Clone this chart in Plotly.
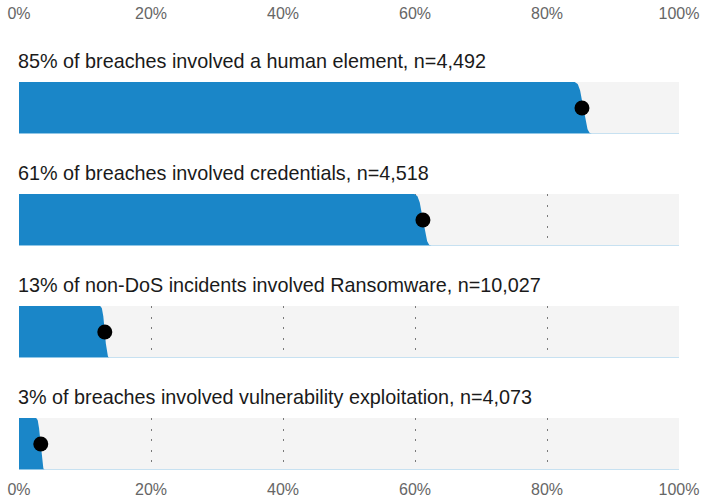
import numpy as np
import plotly.graph_objects as go
from plotly.subplots import make_subplots
from statistics import NormalDist

# ---- data ----
titles = [
    "85% of breaches involved a human element, n=4,492",
    "61% of breaches involved credentials, n=4,518",
    "13% of non-DoS incidents involved Ransomware, n=10,027",
    "3% of breaches involved vulnerability exploitation, n=4,073",
]
point_pct = [85.3, 61.2, 13.0, 3.3]      # dot (point estimate), %
interval_lo = [84.2, 59.9, 12.3, 2.6]    # left end of the slab edge, %
interval_hi = [86.8, 62.5, 13.7, 3.9]    # right end of the slab edge, %
tick_vals = [0, 20, 40, 60, 80, 100]
tick_text = ["0%", "20%", "40%", "60%", "80%", "100%"]

BLUE = "#1a86c8"
LIGHT_BLUE = "#b9dbf1"
BG = "#f4f4f4"
FONT = "Liberation Sans, Arial, sans-serif"

n = len(titles)
fig = make_subplots(rows=n, cols=1, shared_xaxes=False, vertical_spacing=60 / 388)

nd = NormalDist()
zmax = 2.6
u = np.linspace(nd.cdf(-zmax), nd.cdf(zmax), 80)
zq = np.array([nd.inv_cdf(v) for v in u])  # -zmax .. zmax

for i in range(n):
    r = i + 1
    lo, hi = interval_lo[i], interval_hi[i]
    mid = (lo + hi) / 2
    half = (hi - lo) / 2
    edge_x = mid + half * zq / zmax          # top (lo) -> bottom (hi)
    edge_y = 1 - (u - u[0]) / (u[-1] - u[0])
    xs = [0, 0] + list(edge_x) + [0]
    ys = [0, 1] + list(edge_y) + [0]
    fig.add_trace(go.Scatter(x=xs, y=ys, fill="toself", fillcolor=BLUE,
                             mode="lines", line=dict(width=0, color=BLUE),
                             hoverinfo="skip", showlegend=False), row=r, col=1)
    fig.add_trace(go.Scatter(x=[0, 100], y=[0, 0], mode="lines",
                             line=dict(color=LIGHT_BLUE, width=1.5),
                             hoverinfo="skip", showlegend=False), row=r, col=1)
    fig.add_trace(go.Scatter(x=[point_pct[i]], y=[0.5], mode="markers",
                             marker=dict(color="black", size=15),
                             showlegend=False), row=r, col=1)
    fig.update_yaxes(range=[0, 1], showgrid=False, zeroline=False,
                     showticklabels=False, fixedrange=True, automargin=False,
                     row=r, col=1)
    fig.update_xaxes(range=[0, 100], tickvals=tick_vals, ticktext=tick_text,
                     showgrid=True, gridcolor="#7a7a7a", gridwidth=1.3,
                     griddash="2px,8.5px", zeroline=False, automargin=False,
                     showticklabels=(r == 1 or r == n),
                     side="top" if r == 1 else "bottom",
                     ticklabelstandoff=59 if r == 1 else 8,
                     tickfont=dict(size=16, color="#666666", family=FONT),
                     row=r, col=1)
    xname = "x" if r == 1 else f"x{r}"
    yname = "y" if r == 1 else f"y{r}"
    fig.add_annotation(text=titles[i], xref=f"{xname} domain", yref=f"{yname} domain",
                       x=0, y=1, xanchor="left", yanchor="bottom",
                       xshift=-3, yshift=8, showarrow=False,
                       font=dict(size=19.8, color="#1a1a1a", family=FONT))

fig.update_layout(
    width=704, height=499,
    margin=dict(l=19, r=25, t=82, b=29),
    plot_bgcolor=BG, paper_bgcolor="white",
    font=dict(family=FONT),
)

fig.write_html("out.html", config={"displayModeBar": False},
               post_script="document.body.style.margin='0';")
